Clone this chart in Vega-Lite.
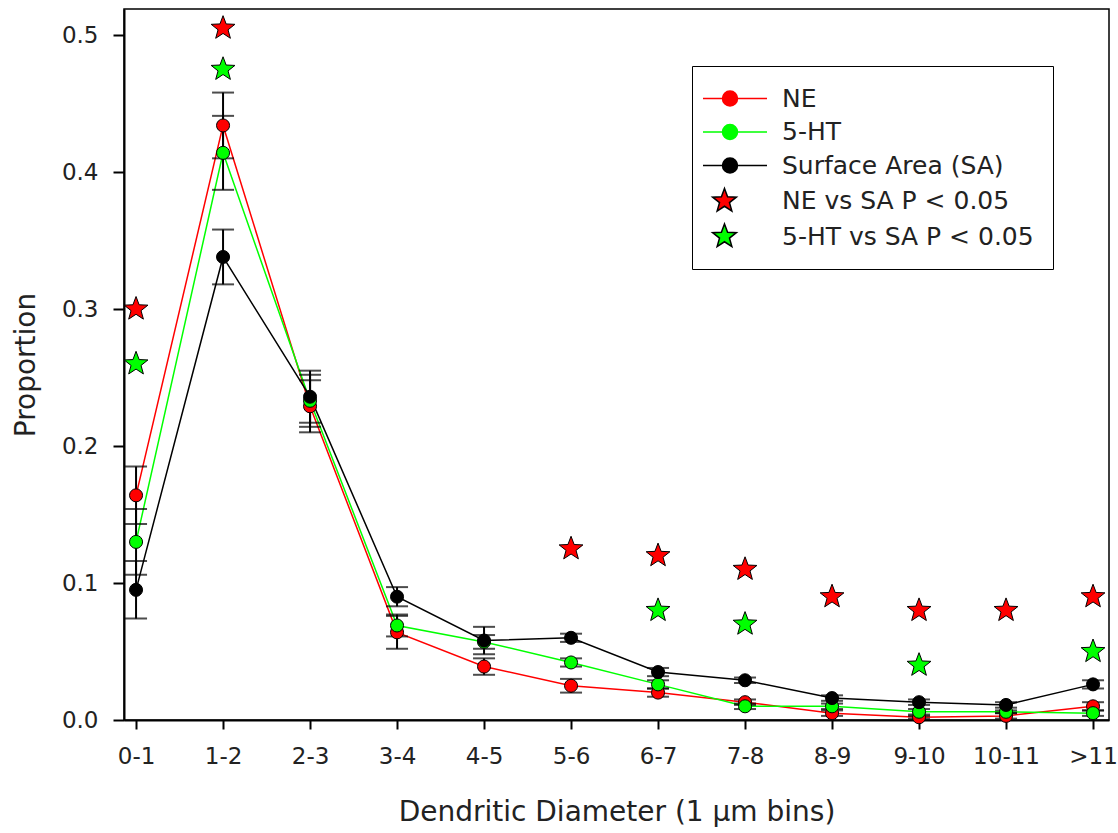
{
  "$schema": "https://vega.github.io/schema/vega-lite/v6.json",
  "width": 985,
  "height": 711,
  "autosize": "none",
  "padding": {"left": 124, "top": 9, "right": 9, "bottom": 113},
  "background": "white",
  "datasets": {
    "means": [
      {"bin": "0-1", "series": "NE", "value": 0.164, "err": 0.021},
      {"bin": "0-1", "series": "5-HT", "value": 0.130, "err": 0.024},
      {"bin": "0-1", "series": "Surface Area (SA)", "value": 0.095, "err": 0.021},
      {"bin": "1-2", "series": "NE", "value": 0.434, "err": 0.024},
      {"bin": "1-2", "series": "5-HT", "value": 0.414, "err": 0.027},
      {"bin": "1-2", "series": "Surface Area (SA)", "value": 0.338, "err": 0.020},
      {"bin": "2-3", "series": "NE", "value": 0.229, "err": 0.019},
      {"bin": "2-3", "series": "5-HT", "value": 0.233, "err": 0.019},
      {"bin": "2-3", "series": "Surface Area (SA)", "value": 0.236, "err": 0.019},
      {"bin": "3-4", "series": "NE", "value": 0.064, "err": 0.012},
      {"bin": "3-4", "series": "5-HT", "value": 0.069, "err": 0.008},
      {"bin": "3-4", "series": "Surface Area (SA)", "value": 0.090, "err": 0.007},
      {"bin": "4-5", "series": "NE", "value": 0.039, "err": 0.006},
      {"bin": "4-5", "series": "5-HT", "value": 0.057, "err": 0.005},
      {"bin": "4-5", "series": "Surface Area (SA)", "value": 0.058, "err": 0.010},
      {"bin": "5-6", "series": "NE", "value": 0.025, "err": 0.005},
      {"bin": "5-6", "series": "5-HT", "value": 0.042, "err": 0.003},
      {"bin": "5-6", "series": "Surface Area (SA)", "value": 0.060, "err": 0.003},
      {"bin": "6-7", "series": "NE", "value": 0.020, "err": 0.003},
      {"bin": "6-7", "series": "5-HT", "value": 0.026, "err": 0.003},
      {"bin": "6-7", "series": "Surface Area (SA)", "value": 0.035, "err": 0.003},
      {"bin": "7-8", "series": "NE", "value": 0.013, "err": 0.002},
      {"bin": "7-8", "series": "5-HT", "value": 0.010, "err": 0.002},
      {"bin": "7-8", "series": "Surface Area (SA)", "value": 0.029, "err": 0.002},
      {"bin": "8-9", "series": "NE", "value": 0.005, "err": 0.002},
      {"bin": "8-9", "series": "5-HT", "value": 0.010, "err": 0.002},
      {"bin": "8-9", "series": "Surface Area (SA)", "value": 0.016, "err": 0.002},
      {"bin": "9-10", "series": "NE", "value": 0.002, "err": 0.001},
      {"bin": "9-10", "series": "5-HT", "value": 0.006, "err": 0.002},
      {"bin": "9-10", "series": "Surface Area (SA)", "value": 0.013, "err": 0.002},
      {"bin": "10-11", "series": "NE", "value": 0.003, "err": 0.002},
      {"bin": "10-11", "series": "5-HT", "value": 0.006, "err": 0.001},
      {"bin": "10-11", "series": "Surface Area (SA)", "value": 0.011, "err": 0.002},
      {"bin": ">11", "series": "NE", "value": 0.010, "err": 0.003},
      {"bin": ">11", "series": "5-HT", "value": 0.005, "err": 0.002},
      {"bin": ">11", "series": "Surface Area (SA)", "value": 0.026, "err": 0.003}
    ],
    "stars": [
      {"bin": "0-1", "series": "NE vs SA P < 0.05", "value": 0.300},
      {"bin": "0-1", "series": "5-HT vs SA P < 0.05", "value": 0.260},
      {"bin": "1-2", "series": "NE vs SA P < 0.05", "value": 0.505},
      {"bin": "1-2", "series": "5-HT vs SA P < 0.05", "value": 0.475},
      {"bin": "5-6", "series": "NE vs SA P < 0.05", "value": 0.125},
      {"bin": "6-7", "series": "NE vs SA P < 0.05", "value": 0.120},
      {"bin": "6-7", "series": "5-HT vs SA P < 0.05", "value": 0.080},
      {"bin": "7-8", "series": "NE vs SA P < 0.05", "value": 0.110},
      {"bin": "7-8", "series": "5-HT vs SA P < 0.05", "value": 0.070},
      {"bin": "8-9", "series": "NE vs SA P < 0.05", "value": 0.090},
      {"bin": "9-10", "series": "NE vs SA P < 0.05", "value": 0.080},
      {"bin": "9-10", "series": "5-HT vs SA P < 0.05", "value": 0.040},
      {"bin": "10-11", "series": "NE vs SA P < 0.05", "value": 0.080},
      {"bin": ">11", "series": "NE vs SA P < 0.05", "value": 0.090},
      {"bin": ">11", "series": "5-HT vs SA P < 0.05", "value": 0.050}
    ]
  },
  "config": {
    "font": "DejaVu Sans",
    "view": {"stroke": "#000000", "strokeWidth": 1.5},
    "axis": {
      "domainColor": "#000000",
      "domainWidth": 2,
      "tickColor": "#000000",
      "tickWidth": 2,
      "grid": false,
      "labelFont": "DejaVu Sans",
      "labelFontSize": 23,
      "labelColor": "#222222",
      "titleFont": "DejaVu Sans",
      "titleFontSize": 28,
      "titleFontWeight": "normal",
      "titleColor": "#222222"
    },
    "legend": {
      "title": null,
      "orient": "none",
      "legendX": 568,
      "legendY": 57,
      "padding": 19,
      "strokeColor": "#000000",
      "fillColor": "#ffffff",
      "symbolSize": 625,
      "symbolStrokeWidth": 1.5,
      "labelOffset": 44,
      "labelLimit": 0,
      "labelFont": "DejaVu Sans",
      "labelFontSize": 25,
      "labelColor": "#222222",
      "rowPadding": 6.5
    }
  },
  "encoding": {
    "x": {
      "field": "bin",
      "type": "ordinal",
      "scale": {
        "type": "point",
        "domain": ["0-1", "1-2", "2-3", "3-4", "4-5", "5-6", "6-7", "7-8", "8-9", "9-10", "10-11", ">11"],
        "padding": 0.161,
        "align": 0.43
      },
      "axis": {"title": "Dendritic Diameter (1 μm bins)", "labelAngle": 0, "tickSize": 9, "labelPadding": 16, "titlePadding": 30}
    },
    "y": {
      "field": "value",
      "type": "quantitative",
      "scale": {"domain": [0, 0.519], "nice": false, "zero": true},
      "axis": {"title": "Proportion", "values": [0, 0.1, 0.2, 0.3, 0.4, 0.5], "format": ".1f", "tickSize": 11, "labelPadding": 15, "titlePadding": 21}
    }
  },
  "layer": [
    {
      "data": {"name": "means"},
      "mark": {"type": "line", "strokeWidth": 1.5},
      "encoding": {
        "stroke": {
          "field": "series",
          "type": "nominal",
          "scale": {
            "domain": ["NE", "5-HT", "Surface Area (SA)", "NE vs SA P < 0.05", "5-HT vs SA P < 0.05"],
            "range": ["#ff0000", "#00ff00", "#000000", "#000000", "#000000"]
          }
        },
        "order": {"value": null}
      }
    },
    {
      "data": {"name": "means"},
      "mark": {"type": "errorbar", "color": "#000000", "ticks": {"size": 22, "thickness": 2}, "rule": {"strokeWidth": 2}},
      "encoding": {
        "yError": {"field": "err"},
        "detail": {"field": "series", "type": "nominal"}
      }
    },
    {
      "data": {"name": "means"},
      "mark": {"type": "point", "shape": "circle", "filled": true, "size": 170, "stroke": "#000000", "strokeWidth": 1, "opacity": 1},
      "encoding": {
        "fill": {
          "field": "series",
          "type": "nominal",
          "scale": {
            "domain": ["NE", "5-HT", "Surface Area (SA)", "NE vs SA P < 0.05", "5-HT vs SA P < 0.05"],
            "range": ["#ff0000", "#00ff00", "#000000", "#ff0000", "#00ff00"]
          }
        }
      }
    },
    {
      "data": {"name": "stars"},
      "mark": {"type": "point", "filled": true, "size": 625, "strokeWidth": 1, "opacity": 1},
      "encoding": {
        "fill": {"field": "series", "type": "nominal"},
        "stroke": {"field": "series", "type": "nominal"},
        "shape": {
          "field": "series",
          "type": "nominal",
          "scale": {
            "domain": ["NE", "5-HT", "Surface Area (SA)", "NE vs SA P < 0.05", "5-HT vs SA P < 0.05"],
            "range": [
              "M-1.72,0L-0.16,0M1.04,0L3.4,0M-0.16,0A0.6,0.6 0 1,0 1.04,0A0.6,0.6 0 1,0 -0.16,0Z",
              "M-1.72,0L-0.16,0M1.04,0L3.4,0M-0.16,0A0.6,0.6 0 1,0 1.04,0A0.6,0.6 0 1,0 -0.16,0Z",
              "M-1.72,0L-0.16,0M1.04,0L3.4,0M-0.16,0A0.6,0.6 0 1,0 1.04,0A0.6,0.6 0 1,0 -0.16,0Z",
              "M0,-1L0.247,-0.34L0.951,-0.309L0.399,0.13L0.588,0.809L0,0.42L-0.588,0.809L-0.399,0.13L-0.951,-0.309L-0.247,-0.34Z",
              "M0,-1L0.247,-0.34L0.951,-0.309L0.399,0.13L0.588,0.809L0,0.42L-0.588,0.809L-0.399,0.13L-0.951,-0.309L-0.247,-0.34Z"
            ]
          }
        }
      }
    }
  ]
}
